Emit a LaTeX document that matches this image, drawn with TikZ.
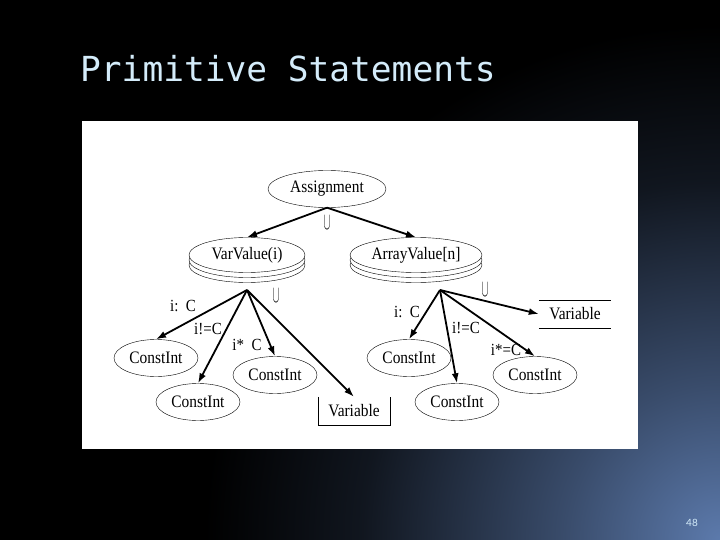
\documentclass[tikz,border=0pt]{standalone}
\usepackage{fontspec}
\setmainfont{Liberation Serif}[FakeStretch=0.88]
\newfontfamily\titlefont{DejaVu Sans Mono}
\newfontfamily\numfont{Lato}
\usetikzlibrary{shapes.geometric,arrows.meta,shadows}
\definecolor{titleblue}{RGB}{212,236,250}
\definecolor{slidecorner}{RGB}{92,122,172}
\pgfdeclareradialshading{cornerglow}{\pgfpoint{0bp}{0bp}}{%
  color(0bp)=(slidecorner); color(7bp)=(slidecorner!62!black);
  color(16bp)=(slidecorner!18!black); color(23bp)=(black); color(50bp)=(black)}
\tikzset{
  leaf/.style={ellipse, draw, thin, minimum width=84pt, minimum height=37pt,
    inner sep=0pt, font=\fontsize{17.5}{20}\selectfont},
  stack/.style={leaf, fill=white,
    copy shadow={shadow xshift=0pt, shadow yshift=-10pt, draw=black, fill=white},
    copy shadow={shadow xshift=0pt, shadow yshift=-5pt, draw=black, fill=white}},
  arr/.style={line width=1.8pt, -{Latex[length=10pt,width=7pt]}},
  lbl/.style={font=\fontsize{17}{19}\selectfont, inner sep=0pt},
  uni/.style={inner sep=0pt, font=\fontsize{17}{19}\selectfont},
  varbox/.style={minimum width=72pt, minimum height=28pt, inner sep=0pt,
    font=\fontsize{17.5}{20}\selectfont}
}
\newcommand{\tallcup}{\scalebox{0.6}[1.4]{$\cup$}}
\begin{document}
\begin{tikzpicture}[x=1pt, y=-1pt]
  \useasboundingbox (0,0) rectangle (720,540);
  % slide background
  \fill[black] (0,0) rectangle (720,540);
  \begin{scope}
    \clip (0,0) rectangle (720,540);
    \shade[shading=cornerglow] (720,540) circle (560);
  \end{scope}
  \node[anchor=base west, inner sep=0pt, text=titleblue,
    font=\titlefont\fontsize{34.5}{40}\selectfont] (title) at (80,82) {Primitive Statements};
  \node[text=titleblue, inner sep=0pt, font=\numfont\fontsize{10}{12}\selectfont]
    (pnum) at (692,523) {48};
  \fill[white] (82,121) rectangle (638,449);
  % top
  \node[leaf, minimum width=118pt, minimum height=37pt] (asg) at (327,189) {Assignment};
  \node[stack, minimum width=116pt, minimum height=35pt] (varv) at (247,255) {VarValue(i)};
  \node[stack, minimum width=132pt, minimum height=35pt] (arrv) at (416,255) {ArrayValue[n]};
  \draw[arr] (asg.south) -- (varv.north);
  \draw[arr] (asg.south) -- (arrv.north);
  \node[uni] (u0) at (327,223) {\tallcup};
  % VarValue(i)
  \coordinate (vfan) at (247,290);
  \foreach \n/\p in {ci1/{(156,358)}, ci2/{(198,402)}, ci3/{(275,375)}}{
    \node[leaf] (\n) at \p {ConstInt};
    \draw[arr] (vfan) -- (\n.north);
  }
  \node[varbox] (var1) at (354,411) {Variable};
  \draw (var1.north west) -- (var1.south west) -- (var1.south east) -- (var1.north east);
  \draw[arr] (vfan) -- (var1.north);
  \node[uni] (u1) at (276,296) {\tallcup};
  \node[lbl] (l1) at (183,306) {i:\ \ C};
  \node[lbl] (l2) at (208,329) {i!=C};
  \node[lbl] (l3) at (247,345) {i*\ \ C};
  % ArrayValue[n]
  \coordinate (afan) at (440,290);
  \foreach \n/\p in {ci4/{(409,358)}, ci5/{(457,402)}, ci6/{(535,375)}}{
    \node[leaf] (\n) at \p {ConstInt};
    \draw[arr] (afan) -- (\n.north);
  }
  \node[varbox] (var2) at (575,314) {Variable};
  \draw (var2.north west) -- (var2.north east);
  \draw (var2.south west) -- (var2.south east);
  \draw[arr] (afan) -- (var2.west);
  \node[uni] (u2) at (485,290) {\tallcup};
  \node[lbl] (l4) at (407,312) {i:\ \ C};
  \node[lbl] (l5) at (466,328) {i!=C};
  \node[lbl] (l6) at (506,350) {i*=C};
\end{tikzpicture}
\end{document}
